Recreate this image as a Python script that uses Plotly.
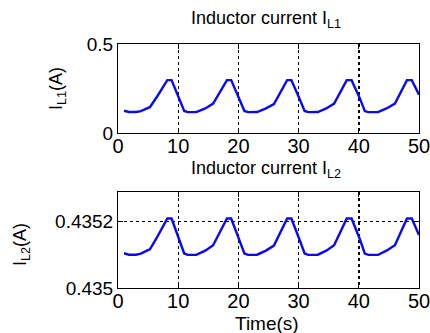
import plotly.graph_objects as go

# ---- data ----
time_s = [1.0, 1.8, 3.0, 3.8, 4.8, 5.3, 6.5, 8.2, 8.9, 10.0, 11.0, 11.6,
          13.0, 14.5, 15.8, 18.1, 18.8, 20.1, 21.0, 21.6,
          23.1, 24.5, 25.9, 28.1, 28.8, 30.1, 31.0, 31.6,
          33.2, 34.6, 35.9, 38.0, 38.8, 40.2, 41.0, 41.6,
          43.2, 44.6, 46.0, 48.0, 48.8, 50.0]
i_l1 = [0.125, 0.118, 0.118, 0.123, 0.138, 0.145, 0.205, 0.297, 0.297, 0.205, 0.124, 0.117,
        0.117, 0.138, 0.165, 0.297, 0.297, 0.195, 0.124, 0.117,
        0.118, 0.137, 0.163, 0.297, 0.297, 0.197, 0.124, 0.117,
        0.118, 0.138, 0.165, 0.297, 0.297, 0.193, 0.123, 0.117,
        0.117, 0.138, 0.165, 0.297, 0.297, 0.215]
i_l2 = [0.4351049, 0.4351006, 0.4351006, 0.4351037, 0.4351128, 0.4351171, 0.4351538, 0.4352100, 0.4352100, 0.4351538, 0.4351043, 0.4351000,
        0.4351000, 0.4351128, 0.4351293, 0.4352100, 0.4352100, 0.4351477, 0.4351043, 0.4351000,
        0.4351006, 0.4351122, 0.4351281, 0.4352100, 0.4352100, 0.4351489, 0.4351043, 0.4351000,
        0.4351006, 0.4351128, 0.4351293, 0.4352100, 0.4352100, 0.4351464, 0.4351037, 0.4351000,
        0.4351000, 0.4351128, 0.4351293, 0.4352100, 0.4352100, 0.4351599]
x_ticks = [0, 10, 20, 30, 40, 50]
y1_ticks = [0, 0.5]
y1_ticklabels = ["0", "0.5"]
y2_ticks = [0.435, 0.4352]
y2_ticklabels = ["0.435", "0.4352"]

W, H = 430, 333
FONT = "Arial, Liberation Sans, sans-serif"
LINE = "#0a0af0"

fig = go.Figure()
fig.add_trace(go.Scatter(x=time_s, y=i_l1, mode="lines", line=dict(color=LINE, width=2.4),
                         xaxis="x", yaxis="y", showlegend=False))
fig.add_trace(go.Scatter(x=time_s, y=i_l2, mode="lines", line=dict(color=LINE, width=2.4),
                         xaxis="x2", yaxis="y2", showlegend=False))

def px_x(p):
    return p / W

def px_y(p):
    return 1 - p / H

xdom = [px_x(118), px_x(419)]
common_x = dict(range=[0, 50], tickvals=x_ticks, ticks="inside", ticklen=5, tickcolor="black",
                showline=True, linecolor="black", linewidth=1, mirror="ticks", automargin=False,
                showgrid=True, gridcolor="black", gridwidth=1.4, griddash="3px,3px",
                ticklabeloverflow="allow", ticklabelstandoff=-5,
                zeroline=False, tickfont=dict(size=20, color="black", family=FONT), domain=xdom)
common_y = dict(ticks="inside", ticklen=5, tickcolor="black", automargin=False,
                showline=True, linecolor="black", linewidth=1, mirror="ticks",
                ticklabeloverflow="allow",
                zeroline=False, tickfont=dict(size=19, color="black", family=FONT))

fig.update_layout(
    width=W, height=H, margin=dict(l=0, r=0, t=0, b=0, autoexpand=False),
    paper_bgcolor="white", plot_bgcolor="white",
    font=dict(family=FONT, color="black"),
    xaxis=dict(common_x, anchor="y"),
    yaxis=dict(common_y, domain=[px_y(133), px_y(44)], range=[0, 0.5],
               tickvals=y1_ticks, ticktext=y1_ticklabels, showgrid=False, anchor="x"),
    xaxis2=dict(common_x, anchor="y2"),
    yaxis2=dict(common_y, domain=[px_y(288), px_y(192)], range=[0.435, 0.43529],
                tickvals=y2_ticks, ticktext=y2_ticklabels, showgrid=True,
                gridcolor="black", gridwidth=1.4, griddash="3px,3px", anchor="x2"),
)

ann = [
    dict(text="Inductor current I<sub>L1</sub>", x=px_x(266), y=px_y(6), xref="paper", yref="paper",
         xanchor="center", yanchor="top", showarrow=False, font=dict(size=18, family=FONT)),
    dict(text="Inductor current I<sub>L2</sub>", x=px_x(266), y=px_y(156), xref="paper", yref="paper",
         xanchor="center", yanchor="top", showarrow=False, font=dict(size=18, family=FONT)),
    dict(text="I<sub>L1</sub>(A)", x=px_x(57), y=px_y(88), xref="paper", yref="paper",
         xanchor="center", yanchor="middle", textangle=-90, showarrow=False, font=dict(size=18, family=FONT)),
    dict(text="I<sub>L2</sub>(A)", x=px_x(21), y=px_y(245), xref="paper", yref="paper",
         xanchor="center", yanchor="middle", textangle=-90, showarrow=False, font=dict(size=18, family=FONT)),
    dict(text="Time(s)", x=px_x(267), y=px_y(323), xref="paper", yref="paper",
         xanchor="center", yanchor="middle", showarrow=False, font=dict(size=19, family=FONT)),
]
fig.update_layout(annotations=ann)

fig.write_html("out.html", config={"displayModeBar": False, "staticPlot": True},
               post_script="document.body.style.margin='0px';document.body.style.overflow='hidden';")
